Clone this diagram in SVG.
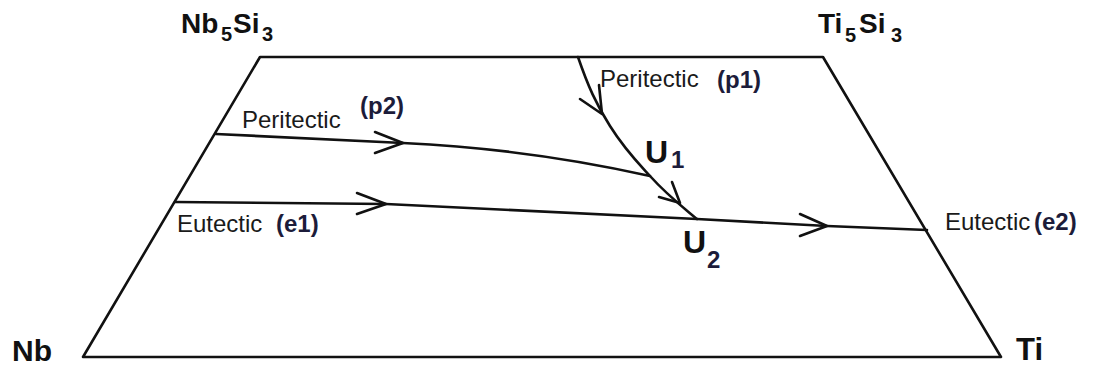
<svg xmlns="http://www.w3.org/2000/svg" width="1097" height="367" viewBox="0 0 1097 367">
<style>
.ln{fill:none;stroke:#111;stroke-width:2.6;stroke-linejoin:round;stroke-linecap:round}
.ar{fill:none;stroke:#111;stroke-width:2.6;stroke-linejoin:round;stroke-linecap:round}
.cmp{font-family:"Liberation Sans",Arial,sans-serif;font-weight:bold;fill:#111}
.lbl{font-family:"Liberation Sans",Arial,sans-serif;font-size:24px;fill:#1a1a1a}
.tag{font-family:"Liberation Sans",Arial,sans-serif;font-weight:bold;font-size:24px;fill:#1c1c3a}
.u{font-family:"Liberation Sans",Arial,sans-serif;font-weight:bold;fill:#111}
</style>
<rect width="1097" height="367" fill="#fff"/>
<g id="frame">
<polygon class="ln" points="260,57 823,57 1001,357 83,357"/>
</g>
<g id="connectors">
<path id="p2-line" class="ln" d="M216,134 L403,143 Q530,149 650,176"/>
<path id="e-line" class="ln" d="M175,202 L386,204 L697,219 L827,226 L927,230"/>
<path id="p1-line" class="ln" d="M578,57 C588,86 596,104 610,126 C625,150 640,165 650,176 C668,196 684,208 697,219"/>
<polyline class="ar" points="375,132 403,143 375,153"/>
<polyline class="ar" points="357,193 386,204 357,214"/>
<polyline class="ar" points="800,214 827,226 800,236"/>
<polyline class="ar" points="580,99 602,114 599,85"/>
<polyline class="ar" points="672,182 680,203 659,197"/>
</g>
<g id="Nb5Si3">
<text class="cmp" font-size="28"><tspan x="181" y="33">Nb</tspan><tspan x="221" y="41" font-size="20">5</tspan><tspan x="233" y="33">Si</tspan><tspan x="262" y="41" font-size="20">3</tspan></text>
</g>
<g id="Ti5Si3">
<text class="cmp" font-size="28"><tspan x="818" y="33">Ti</tspan><tspan x="845" y="42" font-size="20">5</tspan><tspan x="859" y="33">Si</tspan><tspan x="891" y="42" font-size="20">3</tspan></text>
</g>
<g id="Nb">
<text class="cmp" font-size="30" x="12" y="361">Nb</text>
</g>
<g id="Ti">
<text class="cmp" font-size="31" x="1016" y="360">Ti</text>
</g>
<g id="p1">
<text class="lbl" x="600" y="87">Peritectic</text>
<text class="tag" x="717" y="88">(p1)</text>
</g>
<g id="p2">
<text class="lbl" x="242" y="128">Peritectic</text>
<text class="tag" x="360" y="114">(p2)</text>
</g>
<g id="e1">
<text class="lbl" x="177" y="232">Eutectic</text>
<text class="tag" x="276" y="232">(e1)</text>
</g>
<g id="e2">
<text class="lbl" x="945" y="230">Eutectic</text>
<text class="tag" x="1034" y="230">(e2)</text>
</g>
<g id="U1">
<text class="u" font-size="32" x="645" y="163">U</text>
<text class="tag" font-size="25" x="671" y="168">1</text>
</g>
<g id="U2">
<text class="u" font-size="32" x="683" y="253">U</text>
<text class="tag" font-size="25" x="707" y="268">2</text>
</g>
</svg>
